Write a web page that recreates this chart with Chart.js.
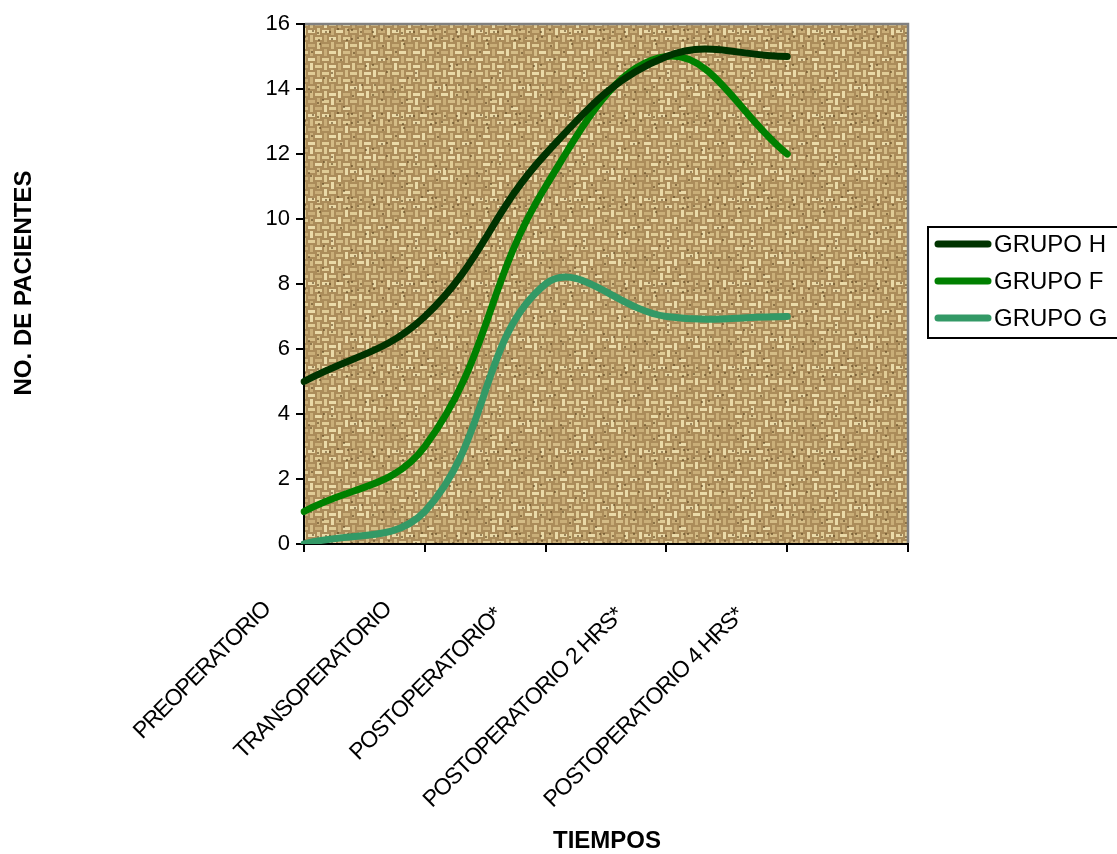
<!DOCTYPE html>
<html><head><meta charset="utf-8">
<script src="https://cdn.jsdelivr.net/npm/chart.js@4.4.0/dist/chart.umd.min.js"></script>
<style>html,body{margin:0;padding:0;background:#fff;overflow:hidden}</style>
</head><body>
<canvas id="c" width="1117" height="854"></canvas>
<script>
// ---- data ----
const categories = ['PREOPERATORIO','TRANSOPERATORIO','POSTOPERATORIO*','POSTOPERATORIO 2 HRS*','POSTOPERATORIO 4 HRS*',''];
const grupoH = [5, 7, 12, 15, 15];
const grupoF = [1, 3, 11, 15, 12];
const grupoG = [0, 1, 8, 7, 7];
const seriesNames = ['GRUPO H', 'GRUPO F', 'GRUPO G'];
const yMin = 0, yMax = 16, yStep = 2;
const yTitle = 'NO. DE PACIENTES';
const xTitle = 'TIEMPOS';

// ---- styles ----
const seriesColors = ['#003300', '#008000', '#339966'];
const FONT = 'Arial, "Liberation Sans", sans-serif';

// burlap-like texture (decorative)
function makeTexture() {
  const s = 84, cell = 7;
  const c = document.createElement('canvas');
  c.width = s; c.height = s;
  const g = c.getContext('2d');
  let seed = 98765;
  const rnd = () => { seed = (seed * 1664525 + 1013904223) % 4294967296; return seed / 4294967296; };
  g.fillStyle = '#ab8c5a';
  g.fillRect(0, 0, s, s);
  const lights = ['#eadaa8', '#e0cc96', '#d4bc86', '#c9ae78'];
  for (let i = 0; i < s / cell; i++) {
    for (let j = 0; j < s / cell; j++) {
      const x = i * cell, y = j * cell;
      g.fillStyle = lights[(rnd() * lights.length) | 0];
      if ((i + j) % 2 === 0) g.fillRect(x, y + 2, cell, 3);
      else g.fillRect(x + 2, y, 3, cell);
      if (rnd() < 0.35) { g.fillStyle = 'rgba(90,65,30,0.55)'; g.fillRect(x + (rnd()*5|0), y + (rnd()*5|0), 2, 2); }
    }
  }
  return c;
}
const texture = makeTexture();

const decor = {
  id: 'decor',
  beforeDraw(chart) {
    const { ctx, chartArea: a } = chart;
    ctx.save();
    ctx.fillStyle = ctx.createPattern(texture, 'repeat');
    ctx.fillRect(a.left, a.top, a.right - a.left, a.bottom - a.top);
    ctx.restore();
  },
  afterDraw(chart) {
    const { ctx, chartArea: a } = chart;
    const xs = chart.scales.x;
    ctx.save();
    // gray top/right frame
    ctx.strokeStyle = '#808080';
    ctx.lineWidth = 2.5;
    ctx.beginPath();
    ctx.moveTo(a.left + 1, a.top);
    ctx.lineTo(a.right, a.top);
    ctx.lineTo(a.right, a.bottom - 1);
    ctx.stroke();

    // rotated category labels
    ctx.fillStyle = '#000';
    ctx.font = '23px ' + FONT;
    ctx.letterSpacing = '-1.2px';
    ctx.textAlign = 'right';
    ctx.textBaseline = 'middle';
    categories.forEach((lab, i) => {
      if (!lab) return;
      const px = xs.getPixelForValue(i);
      let dx = -37, dy = 62;
      if (lab.endsWith('*')) { dx -= 10; dy += 6; }
      ctx.save();
      ctx.translate(px + dx, a.bottom + dy);
      ctx.rotate(-Math.PI / 4);
      ctx.fillText(lab, 0, 0);
      ctx.restore();
    });
    ctx.letterSpacing = '0px';

    // axis titles
    ctx.font = 'bold 24px ' + FONT;
    ctx.textAlign = 'center';
    ctx.textBaseline = 'middle';
    ctx.fillText(xTitle, 607, 841);
    ctx.save();
    ctx.translate(24, 283);
    ctx.rotate(-Math.PI / 2);
    ctx.fillText(yTitle, 0, 0);
    ctx.restore();

    // legend
    ctx.lineWidth = 2;
    ctx.strokeStyle = '#000';
    ctx.strokeRect(928, 227, 240, 111);
    ctx.font = '24px ' + FONT;
    ctx.textAlign = 'left';
    ctx.textBaseline = 'middle';
    seriesNames.forEach((n, i) => {
      const y = 244 + i * 37;
      ctx.strokeStyle = seriesColors[i];
      ctx.lineWidth = 7;
      ctx.lineCap = 'round';
      ctx.beginPath();
      ctx.moveTo(938, y);
      ctx.lineTo(988, y);
      ctx.stroke();
      ctx.fillStyle = '#000';
      ctx.fillText(n, 994, y + 1);
    });
    ctx.restore();
  }
};

const series = [grupoH, grupoF, grupoG];
new Chart(document.getElementById('c'), {
  type: 'line',
  data: {
    labels: categories,
    datasets: series.map((d, i) => ({
      label: seriesNames[i],
      data: d,
      borderColor: seriesColors[i],
      backgroundColor: seriesColors[i],
      borderWidth: 7,
      tension: 0.4,
      pointRadius: 0,
      pointHoverRadius: 0,
      borderCapStyle: 'round',
      borderJoinStyle: 'round',
      fill: false
    }))
  },
  options: {
    responsive: false,
    animation: false,
    devicePixelRatio: 1,
    layout: { padding: { left: 244, right: 209, top: 24, bottom: 0 } },
    plugins: { legend: { display: false }, tooltip: { enabled: false } },
    scales: {
      x: {
        type: 'category',
        offset: false,
        ticks: { display: false },
        grid: { drawOnChartArea: false, drawTicks: true, tickLength: 8, color: '#000', lineWidth: 2 },
        border: { color: '#000', width: 2 },
        afterFit(s) { s.height = 310; }
      },
      y: {
        min: yMin, max: yMax,
        ticks: { stepSize: yStep, color: '#000', font: { family: FONT, size: 22 }, padding: 6 },
        grid: { drawOnChartArea: false, drawTicks: true, tickLength: 8, color: '#000', lineWidth: 2 },
        border: { color: '#000', width: 2 },
        afterFit(s) { s.width = 60; }
      }
    }
  },
  plugins: [decor]
});
</script>
</body></html>
